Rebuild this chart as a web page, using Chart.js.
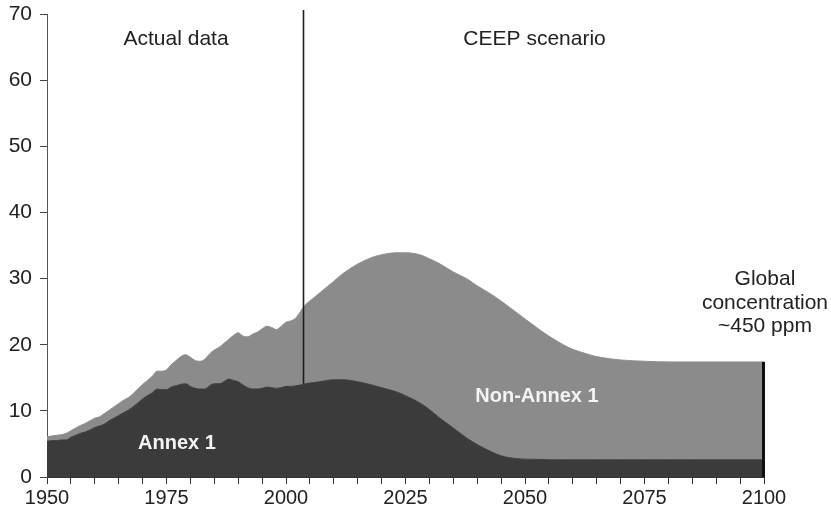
<!DOCTYPE html>
<html>
<head>
<meta charset="utf-8">
<script src="https://cdn.jsdelivr.net/npm/chart.js@4.4.1/dist/chart.umd.min.js"></script>
<style>
  html, body { margin: 0; padding: 0; background: #ffffff; }
  #wrap { width: 831px; height: 516px; position: relative; }
</style>
</head>
<body>
<div id="wrap"><canvas id="c" width="831" height="516"></canvas></div>
<script>
// ---- Data ----
const years = [
  1950,1951,1952,1953,1954,1955,1956,1957,1958,1959,
  1960,1961,1962,1963,1964,1965,1966,1967,1968,1969,
  1970,1971,1972,1973,1974,1975,1976,1977,1978,1979,
  1980,1981,1982,1983,1984,1985,1986,1987,1988,1989,
  1990,1991,1992,1993,1994,1995,1996,1997,1998,1999,
  2000,2001,2002,2003,2004,
  2005,2007,2010,2012,2015,2018,2020,2023,2025,2028,
  2030,2032,2035,2038,2040,2043,2045,2048,2050,2053,
  2055,2058,2060,2063,2065,2070,2075,2080,2085,2090,2095,2100
];
const annex1 = [
  5.4,5.5,5.5,5.6,5.6,6.0,6.3,6.6,6.8,7.1,
  7.5,7.7,8.0,8.5,8.9,9.3,9.7,10.1,10.6,11.2,
  11.8,12.3,12.7,13.3,13.2,13.2,13.6,13.8,14.0,14.1,
  13.7,13.4,13.3,13.3,13.8,14.1,14.1,14.4,14.8,14.6,
  14.4,13.9,13.5,13.3,13.3,13.4,13.6,13.5,13.4,13.5,
  13.7,13.7,13.8,13.9,14.1,
  14.2,14.4,14.7,14.7,14.4,13.9,13.5,12.9,12.3,11.2,
  10.2,9.0,7.4,5.8,4.9,3.8,3.2,2.8,2.7,2.65,
  2.6,2.6,2.6,2.6,2.6,2.6,2.6,2.6,2.6,2.6,2.6,2.6
];
const nonAnnex1 = [
  0.7,0.7,0.8,0.8,1.0,1.0,1.1,1.2,1.3,1.4,
  1.4,1.4,1.6,1.6,1.7,1.8,1.9,1.9,2.0,2.1,
  2.2,2.3,2.5,2.7,2.8,3.0,3.4,3.8,4.2,4.4,
  4.4,4.2,4.2,4.5,4.8,5.1,5.5,5.8,6.0,6.8,
  7.4,7.4,7.7,8.3,8.6,9.0,9.2,9.1,8.9,9.3,
  9.7,9.9,10.2,11.1,11.9,
  12.4,13.4,14.9,16.1,17.8,19.3,20.1,21.0,21.6,22.4,
  22.8,23.3,23.6,24.1,24.0,23.8,23.4,22.2,21.2,19.65,
  18.7,17.4,16.7,16.0,15.6,15.1,14.9,14.8,14.8,14.8,14.8,14.8
];
const xTickLabels = [1950, 1975, 2000, 2025, 2050, 2075, 2100];
const yTickLabels = [0, 10, 20, 30, 40, 50, 60, 70];
const dividerYear = 2003.6;
const periodLabels = [
  { text: 'Actual data', x: 1977.0, y: 66.2 },
  { text: 'CEEP scenario', x: 2052.0, y: 66.2 }
];
const seriesLabels = [
  { text: 'Annex 1', x: 1977.2, y: 5.1 },
  { text: 'Non-Annex 1', x: 2052.5, y: 12.1 }
];
const noteLines = ['Global', 'concentration', '~450 ppm'];
const noteAnchor = { x: 2100.2, y: 29.9 };

// ---- Chart ----
const FONT = '"Liberation Sans", Arial, Helvetica, sans-serif';
const pts = (arr) => arr.map((v, i) => ({ x: years[i], y: v }));

const annotate = {
  id: 'annotate',
  afterDatasetsDraw(chart) {
    const { ctx, scales: { x, y } } = chart;
    ctx.save();
    // divider line between actual data and scenario
    const dx = Math.round(x.getPixelForValue(dividerYear)) + 0.5;
    const idx = years.findIndex(v => v >= dividerYear);
    ctx.strokeStyle = '#1e1e1e';
    ctx.lineWidth = 1.6;
    ctx.beginPath();
    ctx.moveTo(dx, y.getPixelForValue(70.6));
    ctx.lineTo(dx, y.getPixelForValue(annex1[idx]));
    ctx.stroke();
    // dark edge at the end of the series
    const last = years.length - 1;
    const ex = x.getPixelForValue(years[last]);
    const topY = y.getPixelForValue(annex1[last] + nonAnnex1[last]);
    ctx.fillStyle = '#111111';
    ctx.fillRect(ex - 2, topY, 3, y.getPixelForValue(0) - topY);

    ctx.textAlign = 'center';
    ctx.textBaseline = 'middle';
    ctx.fillStyle = '#222222';
    ctx.font = '21px ' + FONT;
    periodLabels.forEach(l => ctx.fillText(l.text, x.getPixelForValue(l.x), y.getPixelForValue(l.y)));
    noteLines.forEach((t, i) => ctx.fillText(t, x.getPixelForValue(noteAnchor.x), y.getPixelForValue(noteAnchor.y) + i * 23.5));

    ctx.fillStyle = '#f4f4f4';
    ctx.font = 'bold 20px ' + FONT;
    seriesLabels.forEach(l => ctx.fillText(l.text, x.getPixelForValue(l.x), y.getPixelForValue(l.y)));
    ctx.restore();
  }
};

new Chart(document.getElementById('c'), {
  type: 'line',
  data: {
    datasets: [
      {
        label: 'Annex 1',
        data: pts(annex1),
        backgroundColor: '#3b3b3b',
        borderColor: '#3b3b3b',
        borderWidth: 1,
        pointRadius: 0,
        fill: 'origin',
        cubicInterpolationMode: 'monotone'
      },
      {
        label: 'Non-Annex 1',
        data: pts(nonAnnex1),
        backgroundColor: '#8b8b8b',
        borderColor: '#909090',
        borderWidth: 1,
        pointRadius: 0,
        fill: '-1',
        cubicInterpolationMode: 'monotone'
      }
    ]
  },
  options: {
    responsive: false,
    animation: false,
    layout: { padding: { left: 0, right: 67, top: 14, bottom: 0 } },
    plugins: { legend: { display: false }, tooltip: { enabled: false } },
    scales: {
      x: {
        type: 'linear',
        min: 1950,
        max: 2100,
        afterFit: (s) => { s.height = 39; s.paddingLeft = 0; s.paddingRight = 0; },
        afterBuildTicks: (s) => {
          const t = [];
          for (let v = 1950; v <= 2100; v += 5) t.push({ value: v });
          s.ticks = t;
        },
        ticks: {
          autoSkip: false,
          maxRotation: 0,
          padding: 2,
          color: '#222222',
          font: { family: FONT, size: 20 },
          callback: (v) => xTickLabels.includes(v) ? String(v) : ''
        },
        grid: { drawOnChartArea: false, drawTicks: true, tickLength: 7, color: '#333333', lineWidth: 1 },
        border: { display: true, color: '#333333', width: 1 }
      },
      y: {
        stacked: true,
        min: 0,
        max: 70,
        afterFit: (s) => { s.width = 47; s.paddingTop = 0; s.paddingBottom = 0; },
        afterBuildTicks: (s) => { s.ticks = yTickLabels.map(v => ({ value: v })); },
        ticks: {
          padding: 8,
          color: '#222222',
          font: { family: FONT, size: 21 },
          callback: (v) => String(v)
        },
        grid: { drawOnChartArea: false, drawTicks: true, tickLength: 7, color: '#444444', lineWidth: 1 },
        border: { display: true, color: '#555555', width: 1 }
      }
    }
  },
  plugins: [annotate]
});
</script>
</body>
</html>
